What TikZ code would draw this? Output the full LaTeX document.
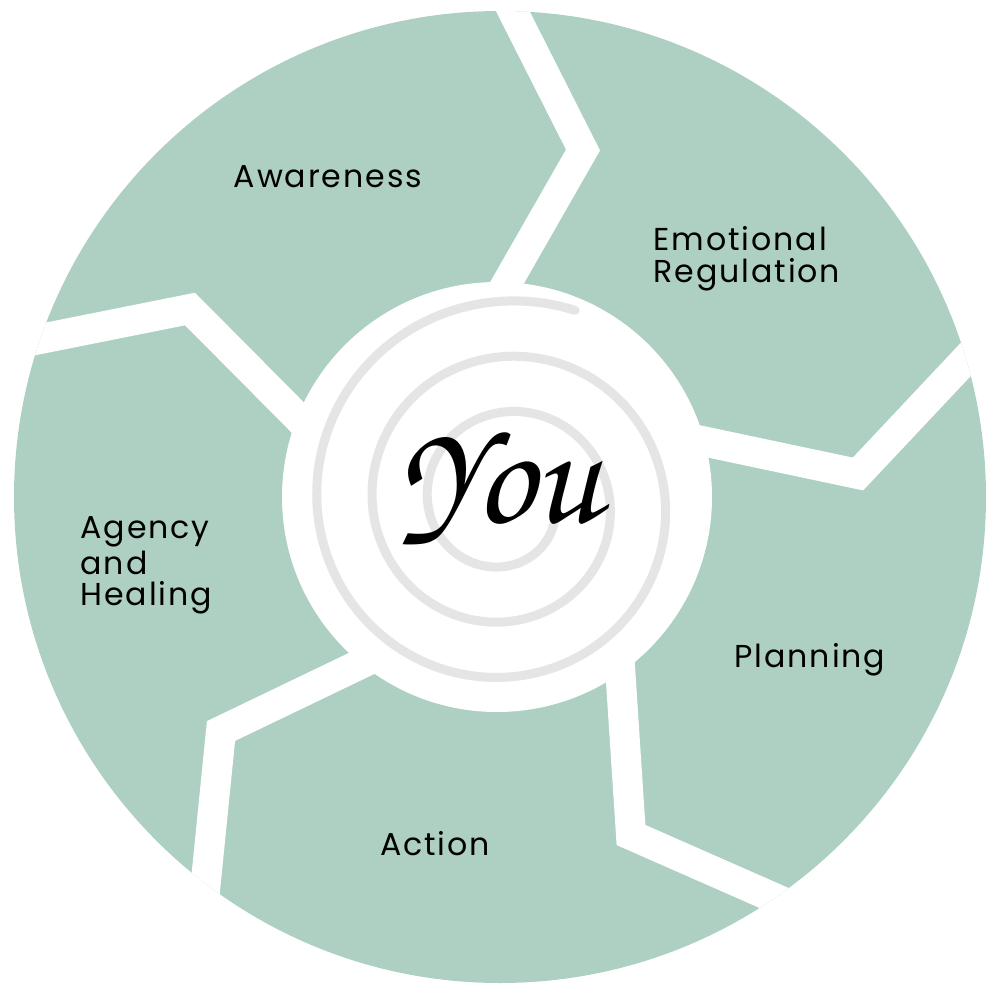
\documentclass[tikz,border=0pt]{standalone}
\usepackage{fontspec}
\setmainfont{Poppins}
\newfontfamily\stagefont[LetterSpace=6]{Poppins}
\definecolor{sage}{RGB}{173,208,195}
\definecolor{swirl}{RGB}{229,229,229}
\tikzset{
  stage/.style={font={\stagefont\fontsize{9}{9}\selectfont}, inner sep=0pt, align=left},
  gap/.style={white, line width=3mm, line join=miter},
}

\begin{document}
\begin{tikzpicture}[x=0.1mm, y=-0.1mm]
\useasboundingbox (0,0) rectangle (1000,1000);
\fill[sage] (500,497) circle (4.86cm);
\begin{scope}
\clip (500,497) circle (4.86cm);
\draw[gap] (497,-20) -- (583,150) -- (480,330); % awareness | emotional
\draw[gap] (-10,349) -- (190,309) -- (330,450); % awareness | agency
\draw[gap] (400,645) -- (221,731) -- (198,960); % agency | action
\draw[gap] (615,590) -- (631,835) -- (931,967); % action | planning
\draw[gap] (650,430) -- (858,474) -- (1000,323); % planning | emotional
\end{scope}
\fill[white] (497,497) circle (2.15cm);
% the swirl behind the name
\draw[swirl, line width=0.9mm, line cap=round]
  plot[domain=70:1070, samples=240, smooth, variable=\t]
  ({505+(205-(\t-70)/6.5)*cos(\t)}, {503-(205-(\t-70)/6.5)*sin(\t)});
\node[font={\fontencoding{OT1}\fontfamily{pzc}\fontseries{mb}\fontshape{it}\fontsize{42}{42}\selectfont}] (you) at (500,488) {You};
\node[stage, anchor=base] (aware) at (328,187) {Awareness};
\node[stage, anchor=north west] (emot) at (653,226) {Emotional\\Regulation};
\node[stage, anchor=base] (plan) at (810,667) {Planning};
\node[stage, anchor=base] (act) at (435,855) {Action};
\node[stage, anchor=north west] (agency) at (80,516) {Agency\\and\\Healing};
\end{tikzpicture}
\end{document}
